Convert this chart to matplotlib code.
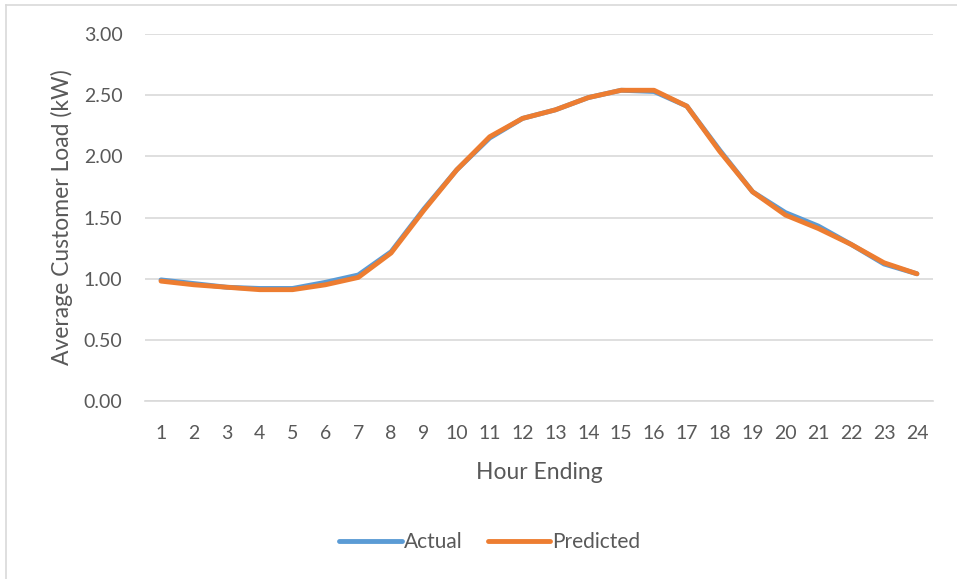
import matplotlib
matplotlib.use("Agg")
import matplotlib.pyplot as plt
from matplotlib.lines import Line2D

plt.rcParams['font.family'] = 'Lato'

# dati
hours = list(range(1, 25))
actual = [0.99, 0.96, 0.93, 0.92, 0.92, 0.97, 1.03, 1.22, 1.57, 1.89, 2.15, 2.31,
          2.38, 2.48, 2.54, 2.53, 2.41, 2.05, 1.71, 1.54, 1.43, 1.28, 1.12, 1.04]
predicted = [0.98, 0.95, 0.93, 0.91, 0.91, 0.95, 1.01, 1.21, 1.56, 1.89, 2.16, 2.31,
             2.38, 2.48, 2.54, 2.54, 2.41, 2.04, 1.71, 1.52, 1.41, 1.28, 1.13, 1.04]
y_ticks = [0.0, 0.5, 1.0, 1.5, 2.0, 2.5, 3.0]

text_col = "#595959"
grid_col = "#D9D9D9"

fig = plt.figure(figsize=(9.57, 5.79), dpi=100)
ax = fig.add_axes([0.1511, 0.3074, 0.9753 - 0.1511, 0.9413 - 0.3074])

ax.plot(hours, actual, color="#5B9BD5", lw=3.5, label="Actual", solid_capstyle="round")
ax.plot(hours, predicted, color="#ED7D31", lw=3.5, label="Predicted", solid_capstyle="round")

ax.set_xlim(0.5, 24.5)
ax.set_ylim(0, 3.0)
ax.set_xticks(hours)
ax.set_yticks(y_ticks)
ax.set_yticklabels([f"{v:.2f}" for v in y_ticks])
ax.tick_params(length=0, labelsize=14, colors=text_col)
ax.tick_params(axis="y", pad=16)
ax.tick_params(axis="x", pad=17)

ax.grid(axis="y", color=grid_col, lw=1.2)
ax.set_axisbelow(True)
for s in ["top", "right", "left"]:
    ax.spines[s].set_visible(False)
ax.spines["bottom"].set_color(grid_col)
ax.spines["bottom"].set_linewidth(1.2)

ax.set_xlabel("Hour Ending", fontsize=16.5, color=text_col, labelpad=15)
ax.set_ylabel("Average Customer Load (kW)", fontsize=16.5, color=text_col, labelpad=8)

fig.legend(loc="center", bbox_to_anchor=(490 / 957, 1 - 542 / 579), ncol=2,
           frameon=False, fontsize=15, handlelength=3.0, handletextpad=0.1,
           columnspacing=1.2, labelcolor=text_col)

# bordo grigio del riquadro (solo sinistra e sopra)
fig.add_artist(Line2D([6 / 957, 6 / 957], [0, 1 - 5 / 579], transform=fig.transFigure,
                      color=grid_col, lw=1.2))
fig.add_artist(Line2D([6 / 957, 1], [1 - 5 / 579, 1 - 5 / 579], transform=fig.transFigure,
                      color=grid_col, lw=1.2))

fig.savefig("out.png", dpi=100)
